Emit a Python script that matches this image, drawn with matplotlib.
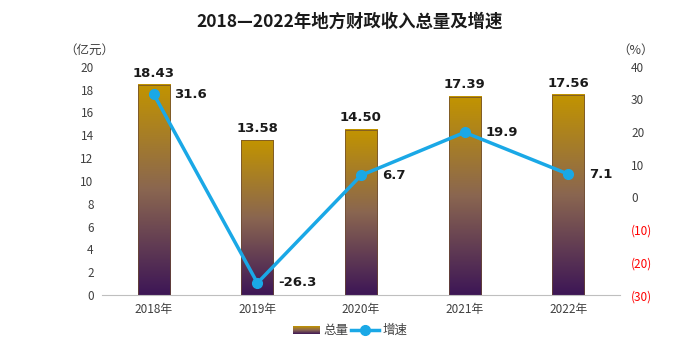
import numpy as np
import matplotlib as mpl
from matplotlib import pyplot as plt
from matplotlib.colors import LinearSegmentedColormap
from matplotlib.patches import Rectangle
from matplotlib.lines import Line2D
from matplotlib.legend_handler import HandlerBase

mpl.use("Agg")
plt.rcParams["font.family"] = ["Noto Sans CJK SC", "DejaVu Sans"]

years = ["2018年", "2019年", "2020年", "2021年", "2022年"]
revenue = [18.43, 13.58, 14.50, 17.39, 17.56]
growth = [31.6, -26.3, 6.7, 19.9, 7.1]

bar_cmap = LinearSegmentedColormap.from_list("gold_purple", ["#3d1656", "#8a6650", "#c29400"])
line_color = "#1aa8e6"
tick_color = "#404040"


class GradientHandler(HandlerBase):
    # legend swatch with the same vertical gradient as the bars
    def create_artists(self, legend, orig, xd, yd, w, h, fontsize, trans):
        rects = []
        n = 8
        for i in range(n):
            r = Rectangle((xd, yd + h * i / n), w, h / n,
                          facecolor=bar_cmap((i + 0.5) / n), edgecolor="none",
                          transform=trans)
            rects.append(r)
        return rects


fig = plt.figure(figsize=(7, 3.5), dpi=100)
ax = fig.add_axes([0.1457, 0.157, 0.74, 0.652])
ax2 = ax.twinx()

x = np.arange(len(years))
width = 0.31
grad = np.linspace(0, 1, 256).reshape(-1, 1)
for xi, v in zip(x, revenue):
    ax.imshow(grad, cmap=bar_cmap, origin="lower", aspect="auto",
              extent=(xi - width / 2, xi + width / 2, 0, v), zorder=2)
    ax.add_patch(Rectangle((xi - width / 2, 0), width, v, fill=False,
                           edgecolor="#6b4a30", linewidth=0.5, zorder=3))
    ax.text(xi, v + 0.45, f"{v:.2f}", ha="center", va="bottom",
            fontsize=9.5, fontweight="bold", color="#1a1a1a", family="DejaVu Sans")

ax.set_xlim(-0.5, 4.5)
ax.set_ylim(0, 20)
ax.set_yticks(range(0, 21, 2))
ax.set_xticks(x)
ax.set_xticklabels(years)

ax2.plot(x, growth, color=line_color, linewidth=2.5, marker="o",
         markersize=7, zorder=5)
for xi, g in zip(x, growth):
    ax2.text(xi + 0.2, g, f"{g:.1f}", ha="left", va="center",
             fontsize=9.5, fontweight="bold", color="#1a1a1a", family="DejaVu Sans")
ax2.set_ylim(-30, 40)
ax2.set_yticks(range(-30, 41, 10))
ax2.set_yticklabels([f"({abs(t)})" if t < 0 else str(t) for t in range(-30, 41, 10)])
for lab, t in zip(ax2.get_yticklabels(), range(-30, 41, 10)):
    lab.set_color("red" if t < 0 else tick_color)

ax.set_zorder(ax2.get_zorder() - 1)
ax2.patch.set_visible(False)

for a in (ax, ax2):
    for s in a.spines.values():
        s.set_visible(False)
    a.tick_params(length=0, labelsize=8.5)
ax.spines["bottom"].set_visible(True)
ax.spines["bottom"].set_color("#bfbfbf")
ax.tick_params(axis="y", colors=tick_color, pad=6)
ax.tick_params(axis="x", colors=tick_color, pad=6)
ax2.tick_params(axis="y", pad=8)

fig.text(0.5, 0.937, "2018—2022年地方财政收入总量及增速", ha="center", va="center",
         fontsize=12.5, fontweight="bold", color="#1a1a1a")
fig.text(0.128, 0.855, "（亿元）", ha="center", va="center", fontsize=9, color=tick_color)
fig.text(0.908, 0.855, "（%）", ha="center", va="center", fontsize=9, color=tick_color)

bar_handle = Rectangle((0, 0), 1, 1)
line_handle = Line2D([], [], color=line_color, linewidth=2.5, marker="o", markersize=7)
fig.legend([bar_handle, line_handle], ["总量", "增速"],
           handler_map={Rectangle: GradientHandler()},
           loc="center", bbox_to_anchor=(0.5, 0.055), ncol=2, frameon=False,
           fontsize=9, labelcolor=tick_color, handlelength=2.2, handletextpad=0.3,
           columnspacing=0.2)

fig.savefig("out.png", dpi=100)
